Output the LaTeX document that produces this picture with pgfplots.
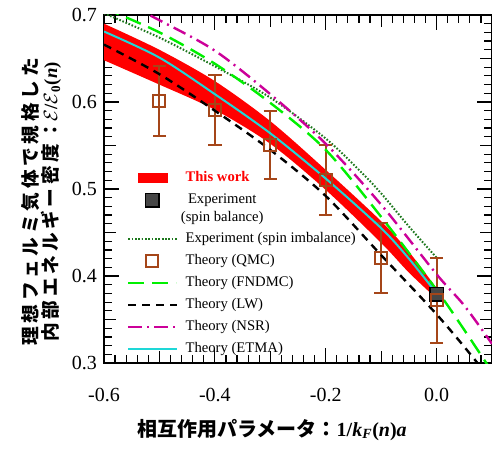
\documentclass[border=0pt]{standalone}
\usepackage{fontspec}
\setmainfont{Liberation Serif}
\newfontfamily\lserif{Liberation Serif}
\newfontfamily\jp{Noto Sans CJK JP}
\newfontfamily\jpy{Noto Sans CJK JP}[LetterSpace=20]
\usepackage{pgfplots}
\pgfplotsset{compat=1.18}
\usepgfplotslibrary{fillbetween}

\definecolor{qmcbrown}{RGB}{165,70,25}
\definecolor{fndmc}{RGB}{0,240,0}
\definecolor{imbal}{RGB}{30,120,30}
\definecolor{nsr}{RGB}{204,0,153}
\definecolor{etma}{RGB}{30,215,215}
\definecolor{expgray}{RGB}{70,70,70}

\pgfplotsset{
  linelegend/.style={legend image code/.code={\draw[mark repeat=2,mark phase=2,##1]
        plot coordinates {(0pt,0pt) (18pt,0pt) (36pt,0pt)};}},
  sqlegend/.style={legend image code/.code={\draw[##1] plot coordinates {(18pt,6.5pt)};}},
  bandlegend/.style={legend image code/.code={\fill[red] (7.5pt,-3.75pt) rectangle (30pt,3.75pt);}},
}

\begin{document}
\begin{tikzpicture}
\begin{axis}[
    width=291pt, height=261pt, scale only axis,
    xmin=-0.6, xmax=0.1, ymin=0.3, ymax=0.7,
    xtick={-0.6,-0.4,-0.2,0},
    ytick={0.3,0.4,0.5,0.6,0.7},
    minor xtick={-0.6,-0.58,...,0.1},
    minor ytick={0.3,0.31,...,0.7},
    extra x ticks={-0.5,-0.3,-0.1}, extra x tick labels={},
    extra y ticks={0.35,0.45,0.55,0.65}, extra y tick labels={},
    extra tick style={major tick length=9pt},
    major tick length=11.5pt, minor tick length=6pt,
    tick align=inside, tick pos=both,
    tick style={black, line width=0.9pt},
    axis line style={line width=1pt},
    /pgf/number format/assume math mode=true,
    ticklabel style={font=\fontsize{15}{18}\selectfont,
        /pgf/number format/fixed, /pgf/number format/fixed zerofill,
        /pgf/number format/precision=1},
    xticklabel style={yshift=-15pt},
    yticklabel style={xshift=-1.75pt},
    xlabel={相互作用パラメータ：{\lserif\bfseries 1/\textit{k}\textsubscript{\textit{F}}(\textit{n})\textit{a}}},
    xlabel style={font=\fontsize{15}{18}\selectfont\jp\bfseries,
        at={(axis description cs:0.433,-0.1916)}, anchor=center},
    ylabel={理想フェルミ気体で規格した\\内部エネルギー密度：{\lserif\bfseries $\mathcal{E}$/$\mathcal{E}$\textsubscript{0}(\textit{n})}},
    ylabel style={align=center, font=\fontsize{14}{13.5}\selectfont\jpy\bfseries,
        at={(axis description cs:-0.162,0.463)}, anchor=center},
    linelegend,
    legend cell align=left,
    legend style={draw=none, fill=none, at={(0.059,0.562)}, anchor=north west,
        inner sep=0pt, column sep=6pt, row sep=0.4pt,
        font=\fontsize{11}{13}\selectfont,
        nodes={inner ysep=1.5pt, inner xsep=0pt, text depth=}},
]
\coordinate (bl) at (rel axis cs:0,0);
\coordinate (tr) at (rel axis cs:1,1);

% This work (band)
\addplot[name path=up, draw=none, smooth, forget plot] coordinates {
    (-0.6,0.690) (-0.5,0.660) (-0.4,0.624) (-0.3,0.578)
    (-0.2,0.522) (-0.1,0.463) (-0.05,0.428) (0,0.386)
};
\addplot[name path=lo, draw=none, smooth, forget plot] coordinates {
    (-0.6,0.648) (-0.5,0.620) (-0.4,0.591) (-0.3,0.552)
    (-0.2,0.499) (-0.1,0.438) (-0.05,0.404) (0,0.374)
};
\addplot[fill=red, draw=none, bandlegend] fill between[of=up and lo];
\addlegendentry{\strut\textcolor{red}{\bfseries This work}}

% Experiment (spin balance)
\addplot[only marks, mark=square*, mark size=5pt,
    mark options={fill=expgray, draw=black, line width=1pt}, sqlegend]
    coordinates {(0,0.379)};
\addlegendentry{\hspace*{-3.5pt}\begin{tabular}{@{}c@{}}Experiment\\(spin balance)\end{tabular}}

% Experiment (spin imbalance)
\addplot[imbal, line width=1.5pt, dash pattern=on 1.2pt off 1.3pt, smooth] coordinates {
    (-0.6,0.702) (-0.5,0.674) (-0.4,0.641) (-0.3,0.605) (-0.2,0.558)
    (-0.137,0.520) (-0.1,0.495) (-0.05,0.457) (0,0.421)
};
\addlegendentry{\strut Experiment (spin imbalance)}

% Theory (QMC)
\addplot[qmcbrown, only marks, mark=square, mark size=4.5pt, line width=1.5pt,
    error bars/.cd, y dir=both, y explicit,
    error bar style={line width=1.5pt, qmcbrown},
    error mark options={rotate=90, qmcbrown, mark size=5pt, line width=1.5pt}]
    coordinates {
    (-0.5,0.601) +- (0,0.040)
    (-0.4,0.591) +- (0,0.040)
    (-0.3,0.551) +- (0,0.039)
    (-0.2,0.510) +- (0,0.040)
    (-0.1,0.421) +- (0,0.040)
    (0,0.372) +- (0,0.049)
};
\addlegendentry{\strut Theory (QMC)}

% Theory (FNDMC)
\addplot[fndmc, line width=1.8pt, dash pattern=on 12pt off 6pt, smooth] coordinates {
    (-0.6,0.708) (-0.5,0.680) (-0.4,0.644) (-0.3,0.599) (-0.2,0.545)
    (-0.1,0.468) (0,0.384) (0.05,0.338) (0.1,0.290)
};
\addlegendentry{\strut Theory (FNDMC)}

% Theory (LW)
\addplot[black, line width=1.8pt, dash pattern=on 6pt off 4.5pt, smooth] coordinates {
    (-0.6,0.666) (-0.5,0.632) (-0.4,0.590) (-0.3,0.545) (-0.2,0.492)
    (-0.1,0.424) (0,0.356) (0.07,0.303) (0.09,0.285)
};
\addlegendentry{\strut Theory (LW)}

% Theory (NSR)
\addplot[nsr, line width=1.8pt, dash pattern=on 10pt off 4pt on 1.5pt off 4pt, smooth] coordinates {
    (-0.6,0.726) (-0.5,0.694) (-0.4,0.659) (-0.3,0.609) (-0.2,0.552)
    (-0.1,0.482) (0,0.402) (0.05,0.366) (0.1,0.322)
};
\addlegendentry{\strut Theory (NSR)}

% Theory (ETMA)
\addplot[etma, line width=1.5pt, smooth] coordinates {
    (-0.6,0.681) (-0.5,0.651) (-0.4,0.609) (-0.3,0.564) (-0.2,0.512)
    (-0.1,0.455) (-0.05,0.420) (0,0.380)
};
\addlegendentry{\strut Theory (ETMA)}
\end{axis}
\pgfresetboundingbox
\path ([xshift=-78pt,yshift=-65.25pt]bl) rectangle ([yshift=11.25pt]tr);
\end{tikzpicture}
\end{document}
